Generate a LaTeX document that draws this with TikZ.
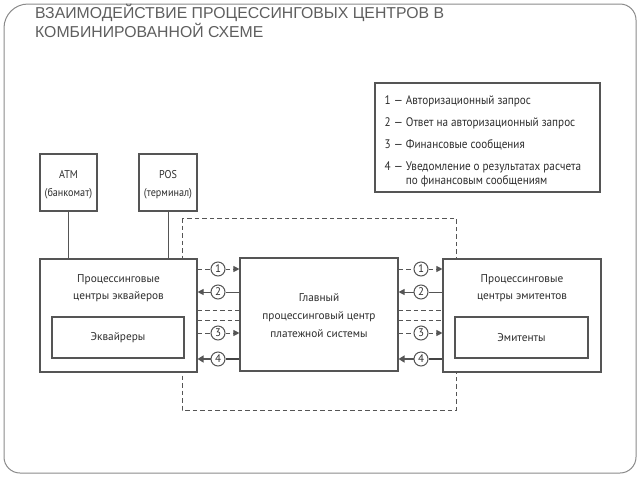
\documentclass[tikz,border=0pt]{standalone}
\usepackage{fontspec}
\setmainfont{Liberation Sans}
\newfontfamily\condf{PT Sans}
\newfontfamily\legf[FakeStretch=0.9]{PT Sans}
\newfontfamily\titlef{Liberation Sans}
\usetikzlibrary{arrows.meta,calc}
\definecolor{ln}{HTML}{555555}
\definecolor{tx}{HTML}{2E2E2E}
\definecolor{tt}{HTML}{5E5E5E}
\definecolor{fr}{HTML}{8A8A8A}
\tikzset{
  box/.style={draw=ln, line width=1.1pt, fill=white, inner sep=0pt},
  lbl/.style={text=tx, font=\condf\fontsize{11.3}{18}\selectfont, align=center, inner sep=0pt},
  num/.style={draw=ln, line width=1pt, circle, fill=white, minimum size=14pt, inner sep=0pt, text=tx, font=\condf\fontsize{11}{12}\selectfont},
  dsh/.style={draw=ln, line width=1pt, dash pattern=on 4.5pt off 3pt},
  sol/.style={draw=ln, line width=1pt},
  thk/.style={draw=ln!80!black, line width=2.6pt},
  tip/.style={-{Triangle[length=6pt,width=6pt]}},
  tipb/.style={-{Triangle[length=6pt,width=7pt]}},
}
\begin{document}
\begin{tikzpicture}[x=1pt,y=-1pt]
\useasboundingbox (0,0) rectangle (640,480);
% outer frame
\draw[fr, line width=1pt] (4,250) [rounded corners=24pt] -- (4,4) [rounded corners=16pt] -- (636,4) -- (636,473) -- (4,473) -- cycle;
% title
\node[anchor=north west, text=tt, font=\titlef\fontsize{15.8}{18.5}\selectfont, align=left, inner sep=0pt] (title) at (35,4.5) {ВЗАИМОДЕЙСТВИЕ ПРОЦЕССИНГОВЫХ ЦЕНТРОВ В\\КОМБИНИРОВАННОЙ СХЕМЕ};
% legend
\node[box, line width=1.4pt, minimum width=225pt, minimum height=109pt] (leg) at (487.5,137.5) {};
\node[anchor=north west, text=tx, font=\legf\fontsize{12.4}{14}\selectfont, align=left, inner sep=0pt] (legt) at (384.5,95)
{1 — Авторизационный запрос\\[8pt]
2 — Ответ на авторизационный запрос\\[8pt]
3 — Финансовые сообщения\\[8pt]
4 — Уведомление о результатах расчета\\
\hphantom{4 — }по финансовым сообщениям};
% dashed outer system box
\draw[dsh] (182,218) rectangle (456,410);
% ATM, POS
\node[box, minimum width=57pt, minimum height=57pt] (atm) at (68.5,182.5) {};
\node[lbl, font=\legf\fontsize{11.3}{18}\selectfont] (atmt) at ($(atm)+(0,2)$) {ATM\\(банкомат)};
\node[box, minimum width=58pt, minimum height=57pt] (pos) at (168,182.5) {};
\node[lbl, font=\legf\fontsize{11.3}{18}\selectfont] (post) at ($(pos)+(0,2)$) {POS\\(терминал)};
% acquirers
\node[box, minimum width=157pt, minimum height=113pt] (acq) at (118.5,315.5) {};
\node[lbl, font=\condf\fontsize{11.3}{17}\selectfont] (acqt) at (118.5,288.5) {Процессинговые\\центры эквайеров};
\node[box, minimum width=132pt, minimum height=41pt] (acqi) at (118,337.5) {};
\node[lbl] (acqit) at (acqi) {Эквайреры};
% central
\node[box, minimum width=158pt, minimum height=113pt] (ctr) at (319,314.5) {};
\node[lbl] (ctrt) at ($(ctr)+(0,1)$) {Главный\\процессинговый центр\\платежной системы};
% issuers
\node[box, minimum width=158pt, minimum height=113pt] (iss) at (522,315.5) {};
\node[lbl, font=\condf\fontsize{11.3}{17}\selectfont] (isst) at (522,288.5) {Процессинговые\\центры эмитентов};
\node[box, minimum width=133pt, minimum height=41pt] (issi) at (521.5,337.5) {};
\node[lbl] (issit) at (issi) {Эмитенты};
% connectors ATM/POS
\draw[sol] (atm) -- (atm |- acq.north);
\draw[sol] (pos) -- (pos |- acq.north);
% row coordinates
\coordinate (r1) at (0,269);
\coordinate (r2) at (0,292);
\coordinate (d1) at (0,310);
\coordinate (d2) at (0,320);
\coordinate (r3) at (0,333);
\coordinate (r4) at (0,359);
% left circles
\node[num] (l1) at (218,269) {1};
\node[num] (l2) at (218,292) {2};
\node[num] (l3) at (218,333) {3};
\node[num] (l4) at (218,359) {4};
% right circles
\node[num] (q1) at (421,269) {1};
\node[num] (q2) at (421,292) {2};
\node[num] (q3) at (421,333) {3};
\node[num] (q4) at (421,359) {4};
% left arrows
\draw[dsh] (acq.east |- r1) -- (l1);
\draw[dsh, tip] (l1) -- (ctr.west |- r1);
\draw[sol] (ctr.west |- r2) -- (l2);
\draw[sol, tip] (l2) -- (acq.east |- r2);
\draw[dsh] (acq.east |- d1) -- (ctr.west |- d1);
\draw[dsh] (acq.east |- d2) -- (ctr.west |- d2);
\draw[dsh] (acq.east |- r3) -- (l3);
\draw[dsh, tip] (l3) -- (ctr.west |- r3);
\draw[thk] (ctr.west |- r4) -- (l4);
\draw[sol, line width=2.6pt, tipb] (l4) -- (acq.east |- r4);
% right arrows
\draw[dsh] (ctr.east |- r1) -- (q1);
\draw[dsh, tip] (q1) -- (iss.west |- r1);
\draw[sol] (iss.west |- r2) -- (q2);
\draw[sol, tip] (q2) -- (ctr.east |- r2);
\draw[dsh] (ctr.east |- d1) -- (iss.west |- d1);
\draw[dsh] (ctr.east |- d2) -- (iss.west |- d2);
\draw[dsh] (ctr.east |- r3) -- (q3);
\draw[dsh, tip] (q3) -- (iss.west |- r3);
\draw[thk] (iss.west |- r4) -- (q4);
\draw[sol, line width=2.6pt, tipb] (q4) -- (ctr.east |- r4);
\end{tikzpicture}
\end{document}
